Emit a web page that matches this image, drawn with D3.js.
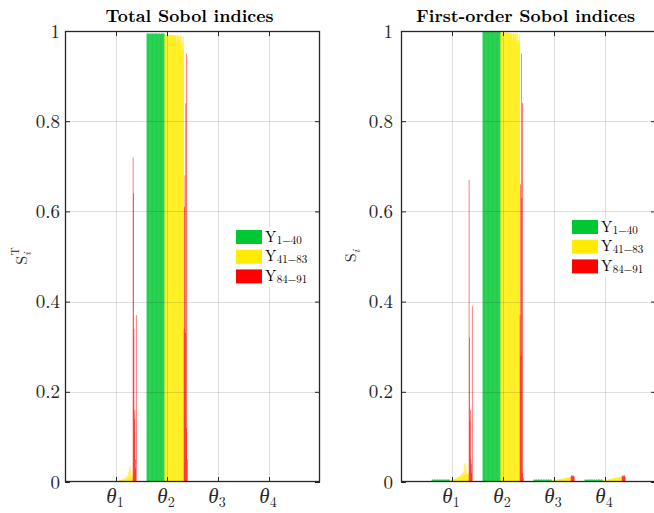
<!DOCTYPE html>
<html><head><meta charset="utf-8">
<script src="https://cdn.jsdelivr.net/npm/d3@7"></script>
<style>body{margin:0;background:#fff}svg{display:block} text{font-family:"Latin Modern Roman","Times New Roman",serif}</style>
</head><body>
<svg id="c" width="654" height="513"></svg>
<script>
// ---------------- DATA ----------------
const params = ["1", "2", "3", "4"];            // θ subscripts
const groupLabels = ["1\u221240", "41\u221283", "84\u221291"]; // Y subscripts
const groupSizes = [40, 43, 8];
const panelTitles = ["Total Sobol indices", "First-order Sobol indices"];
const yTicks = [0, 0.2, 0.4, 0.6, 0.8, 1];

// Total Sobol indices, 91 outputs per parameter
const totalTheta1 = [
0.001,0.002,0.001,0.001,0.002,0.001,0.002,0.001,0.001,0.002,
0.001,0.001,0.002,0.001,0.001,0.002,0.001,0.001,0.002,0.001,
0.002,0.001,0.001,0.002,0.001,0.002,0.001,0.001,0.002,0.001,
0.001,0.002,0.001,0.001,0.002,0.001,0.002,0.001,0.001,0.002,
0.001,0.001,0.002,0.001,0.002,0.001,0.002,0.002,0.001,0.002,
0.002,0.002,0.003,0.004,0.003,0.005,0.004,0.006,0.004,0.007,
0.005,0.006,0.004,0.008,0.005,0.010,0.006,0.012,0.007,0.010,
0.015,0.008,0.022,0.010,0.030,0.012,0.037,0.014,0.025,0.012,
0.010,0.018,0.008,
0.72,0.64,0.34,0.14,0.16,0.05,0.03,0.37];
const totalTheta2 = [
0.994,0.995,0.993,0.994,0.995,0.994,0.993,0.995,0.994,0.994,
0.995,0.993,0.994,0.995,0.994,0.994,0.993,0.995,0.994,0.995,
0.994,0.993,0.995,0.994,0.994,0.995,0.993,0.994,0.995,0.994,
0.993,0.994,0.995,0.994,0.993,0.995,0.994,0.994,0.995,0.993,
0.992,0.991,0.992,0.991,0.991,0.992,0.991,0.991,0.992,0.991,
0.991,0.992,0.991,0.990,0.991,0.992,0.990,0.991,0.992,0.990,
0.991,0.990,0.985,0.991,0.989,0.990,0.975,0.990,0.988,0.990,
0.980,0.990,0.965,0.989,0.990,0.972,0.988,0.958,0.990,0.975,
0.960,0.988,0.962,
0.34,0.61,0.68,0.33,0.84,0.95,0.12,0.05];
const totalTheta3 = [
0.0004,0.0005,0.0004,0.0006,0.0005,0.0004,0.0005,0.0006,0.0004,0.0005,
0.0005,0.0004,0.0006,0.0005,0.0004,0.0005,0.0004,0.0006,0.0005,0.0004,
0.0005,0.0006,0.0004,0.0005,0.0004,0.0005,0.0006,0.0004,0.0005,0.0004,
0.0006,0.0005,0.0004,0.0005,0.0006,0.0004,0.0005,0.0004,0.0006,0.0005,
0.0006,0.0007,0.0006,0.0008,0.0007,0.0006,0.0008,0.0007,0.0009,0.0008,
0.0007,0.0009,0.0008,0.0010,0.0009,0.0008,0.0010,0.0009,0.0011,0.0010,
0.0009,0.0011,0.0010,0.0012,0.0011,0.0010,0.0012,0.0011,0.0013,0.0012,
0.0011,0.0013,0.0012,0.0014,0.0013,0.0012,0.0014,0.0013,0.0015,0.0014,
0.0013,0.0015,0.0014,
0.0015,0.0018,0.0016,0.0017,0.0019,0.0016,0.0018,0.0017];
const totalTheta4 = [
0.0005,0.0004,0.0005,0.0006,0.0004,0.0005,0.0005,0.0004,0.0006,0.0005,
0.0004,0.0005,0.0005,0.0006,0.0004,0.0005,0.0006,0.0004,0.0005,0.0005,
0.0004,0.0006,0.0005,0.0004,0.0005,0.0006,0.0004,0.0005,0.0005,0.0004,
0.0005,0.0006,0.0004,0.0005,0.0004,0.0006,0.0005,0.0005,0.0004,0.0006,
0.0007,0.0006,0.0008,0.0007,0.0006,0.0008,0.0007,0.0009,0.0008,0.0007,
0.0009,0.0008,0.0010,0.0009,0.0008,0.0010,0.0009,0.0011,0.0010,0.0009,
0.0011,0.0010,0.0012,0.0011,0.0010,0.0012,0.0011,0.0013,0.0012,0.0011,
0.0013,0.0012,0.0014,0.0013,0.0012,0.0014,0.0013,0.0015,0.0014,0.0013,
0.0015,0.0014,0.0015,
0.0017,0.0016,0.0018,0.0016,0.0019,0.0017,0.0018,0.0016];

// First-order Sobol indices, 91 outputs per parameter
const firstTheta1 = [
0.005,0.006,0.005,0.005,0.004,0.006,0.005,0.005,0.006,0.004,
0.005,0.005,0.006,0.005,0.004,0.005,0.006,0.005,0.005,0.004,
0.006,0.005,0.005,0.006,0.004,0.005,0.005,0.006,0.005,0.004,
0.005,0.006,0.005,0.005,0.004,0.006,0.005,0.005,0.006,0.005,
0.003,0.004,0.003,0.004,0.005,0.004,0.005,0.006,0.005,0.006,
0.007,0.006,0.008,0.007,0.009,0.008,0.010,0.008,0.012,0.009,
0.011,0.010,0.013,0.011,0.015,0.012,0.018,0.013,0.020,0.014,
0.022,0.015,0.040,0.016,0.042,0.018,0.035,0.017,0.024,0.016,
0.020,0.015,0.018,
0.67,0.32,0.135,0.16,0.05,0.04,0.02,0.39];
const firstTheta2 = [
0.999,1.000,0.999,0.998,1.000,0.999,0.999,1.000,0.998,0.999,
1.000,0.999,0.998,0.999,1.000,0.999,0.999,0.998,1.000,0.999,
0.999,1.000,0.998,0.999,0.999,1.000,0.999,0.998,0.999,1.000,
0.999,0.998,1.000,0.999,0.999,0.998,1.000,0.999,0.999,1.000,
0.997,0.996,0.997,0.996,0.996,0.997,0.996,0.996,0.997,0.996,
0.996,0.997,0.996,0.995,0.996,0.997,0.995,0.996,0.997,0.995,
0.996,0.995,0.990,0.996,0.994,0.995,0.982,0.995,0.993,0.995,
0.986,0.995,0.975,0.994,0.995,0.978,0.993,0.970,0.995,0.980,
0.972,0.993,0.975,
0.37,0.66,0.28,0.95,0.63,0.84,0.02,0.01];
const firstTheta3 = [
0.005,0.005,0.006,0.005,0.004,0.005,0.006,0.005,0.005,0.004,
0.006,0.005,0.005,0.006,0.005,0.004,0.005,0.006,0.005,0.005,
0.004,0.005,0.006,0.005,0.005,0.006,0.004,0.005,0.005,0.006,
0.005,0.004,0.005,0.006,0.005,0.005,0.004,0.006,0.005,0.005,
0.003,0.004,0.003,0.004,0.004,0.003,0.004,0.005,0.004,0.005,
0.004,0.005,0.005,0.006,0.005,0.006,0.005,0.006,0.007,0.006,
0.007,0.006,0.007,0.008,0.007,0.008,0.007,0.008,0.009,0.008,
0.009,0.008,0.009,0.010,0.009,0.010,0.009,0.010,0.011,0.010,
0.011,0.010,0.011,
0.013,0.015,0.014,0.012,0.015,0.013,0.014,0.012];
const firstTheta4 = [
0.005,0.006,0.005,0.005,0.004,0.005,0.005,0.006,0.005,0.004,
0.005,0.006,0.005,0.005,0.004,0.006,0.005,0.005,0.006,0.004,
0.005,0.005,0.006,0.005,0.004,0.005,0.006,0.005,0.005,0.004,
0.006,0.005,0.005,0.006,0.004,0.005,0.005,0.006,0.005,0.005,
0.003,0.003,0.004,0.003,0.004,0.004,0.005,0.004,0.005,0.004,
0.005,0.006,0.005,0.006,0.005,0.006,0.007,0.006,0.007,0.006,
0.007,0.008,0.007,0.008,0.007,0.008,0.009,0.008,0.009,0.008,
0.009,0.010,0.009,0.010,0.009,0.010,0.011,0.010,0.011,0.010,
0.011,0.010,0.011,
0.014,0.013,0.015,0.012,0.014,0.015,0.013,0.012];

const totalData = [totalTheta1, totalTheta2, totalTheta3, totalTheta4];
const firstData = [firstTheta1, firstTheta2, firstTheta3, firstTheta4];

// ---------------- STYLE ----------------
const groupColors = ["#00c832", "#ffec00", "#ff0000"];
const AX = "#262626";
const nOut = d3.sum(groupSizes);
const groupOf = i => (i < groupSizes[0] ? 0 : i < groupSizes[0] + groupSizes[1] ? 1 : 2);

const svg = d3.select("#c");
const y = d3.scaleLinear().domain([0, 1]).range([482, 31]);
const inner = d3.scaleBand().domain(d3.range(nOut)).range([-0.4, 0.4]).padding(0);

function drawPanel(idx, left, data, ylabel, labelPad, legendTop, legendX) {
  const right = left + 255;
  const x = d3.scaleLinear().domain([0, 5]).range([left, right]);
  const g = svg.append("g");
  const clipId = "clip" + idx;
  g.append("clipPath").attr("id", clipId).append("rect")
    .attr("x", left).attr("y", y(1)).attr("width", right - left).attr("height", y(0) - y(1));

  // bars
  const bw = x(inner.bandwidth()) - x(0);
  const bars = [];
  data.forEach((arr, p) => arr.forEach((v, j) => bars.push({p, j, v})));
  g.append("g").attr("clip-path", `url(#${clipId})`)
    .selectAll("rect").data(bars).join("rect")
    .attr("x", d => x(d.p + 1 + inner(d.j)))
    .attr("width", d => bw + (groupOf(d.j) === 2 ? 0.05 : 0.15))
    .attr("y", d => y(d.v))
    .attr("height", d => y(0) - y(d.v))
    .attr("fill", d => groupColors[groupOf(d.j)]);

  // grid (on top, translucent)
  const grid = g.append("g").attr("stroke", "rgba(38,38,38,0.15)").attr("stroke-width", 1);
  yTicks.filter(t => t > 0 && t < 1).forEach(t =>
    grid.append("line").attr("x1", left).attr("x2", right)
      .attr("y1", Math.round(y(t)) + 0.5).attr("y2", Math.round(y(t)) + 0.5));
  params.forEach((_, i) =>
    grid.append("line").attr("y1", y(1)).attr("y2", y(0))
      .attr("x1", Math.round(x(i + 1)) + 0.5).attr("x2", Math.round(x(i + 1)) + 0.5));

  // axes (ticks inward)
  const fmt = d => String(d);
  const ya = g.append("g").attr("transform", `translate(${left},0)`)
    .call(d3.axisLeft(y).tickValues(yTicks).tickSize(-5).tickPadding(labelPad).tickFormat(fmt));
  const yb = g.append("g").attr("transform", `translate(${right},0)`)
    .call(d3.axisRight(y).tickValues(yTicks).tickSize(-5).tickFormat(""));
  const xa = g.append("g").attr("transform", `translate(0,${y(0)})`)
    .call(d3.axisBottom(x).tickValues([1, 2, 3, 4]).tickSize(-5).tickFormat(""));
  const xb = g.append("g").attr("transform", `translate(0,${y(1)})`)
    .call(d3.axisTop(x).tickValues([1, 2, 3, 4]).tickSize(-5).tickFormat(""));
  [ya, yb, xa, xb].forEach(a => {
    a.attr("font-family", null);
    a.select(".domain").remove();
    a.selectAll("line").attr("stroke", AX);
  });
  ya.selectAll("text").attr("font-size", 19).attr("fill", AX);
  g.append("rect").attr("x", left + 0.5).attr("y", y(1) + 0.5)
    .attr("width", right - left - 1).attr("height", y(0) - y(1) - 1)
    .attr("fill", "none").attr("stroke", AX).attr("stroke-width", 1.3);

  // θ tick labels
  params.forEach((s, i) => {
    const t = g.append("text").attr("x", x(i + 1) - 1).attr("y", 503)
      .attr("text-anchor", "middle").attr("fill", AX);
    t.append("tspan").attr("font-style", "italic").attr("font-size", 21).text("\u03b8");
    t.append("tspan").attr("font-size", 14).attr("dy", 4).text(s);
  });

  // title
  svg.append("text").attr("x", (left + right) / 2 - 3).attr("y", 22)
    .attr("text-anchor", "middle").attr("font-weight", "bold")
    .attr("font-size", 17.6).attr("fill", "#000").text(panelTitles[idx]);

  // y label
  const yl = svg.append("text").attr("transform", `translate(${ylabel.x},256) rotate(-90)`)
    .attr("text-anchor", "middle").attr("fill", AX);
  yl.append("tspan").attr("font-size", 16).text("S");
  yl.append("tspan").attr("font-size", 11).attr("font-style", "italic").attr("dy", 4).text("i");
  if (ylabel.sup) {
    yl.append("tspan").attr("font-size", 11).attr("dx", -3).attr("dy", -12).text(ylabel.sup);
  }

  // legend
  const lg = svg.append("g");
  lg.append("rect").attr("x", legendX - 4).attr("y", legendTop - 3)
    .attr("width", 80).attr("height", 60).attr("fill", "#fff");
  groupLabels.forEach((lab, k) => {
    const ty = legendTop + k * 19.7;
    lg.append("rect").attr("x", legendX).attr("y", ty).attr("width", 26).attr("height", 14)
      .attr("fill", groupColors[k]);
    const t = lg.append("text").attr("x", legendX + 29).attr("y", ty + 11.5).attr("fill", "#000");
    t.append("tspan").attr("font-size", 15).text("Y");
    t.append("tspan").attr("font-size", 11).attr("dx", 0.5).attr("dy", 2).text(lab);
  });
}

drawPanel(0, 65, totalData, {x: 27, sup: "T"}, 5, 230, 236);
drawPanel(1, 401, firstData, {x: 356, sup: null}, 8, 220, 572);
</script>
</body></html>
